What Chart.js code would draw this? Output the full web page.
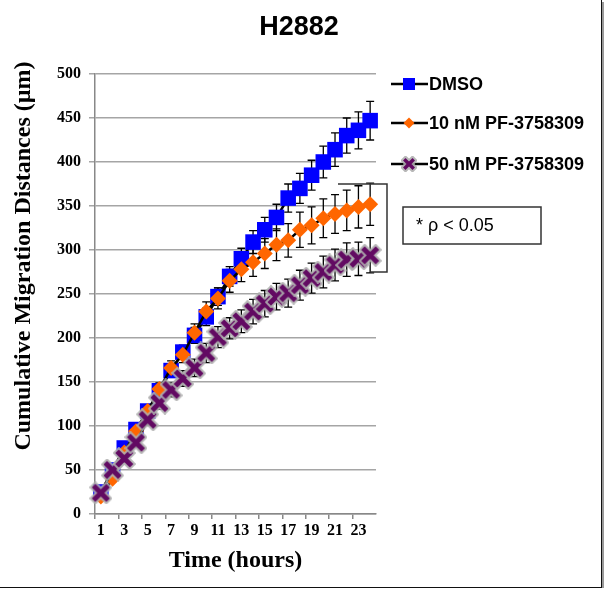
<!DOCTYPE html>
<html>
<head>
<meta charset="utf-8">
<title>H2882</title>
<script src="https://cdn.jsdelivr.net/npm/chart.js@4.4.0/dist/chart.umd.min.js"></script>
<style>
  html, body { margin: 0; padding: 0; background: #fff; }
  #wrap {
    position: relative;
    width: 601px;
    height: 587px;
    border-right: 1px solid #111;
    border-bottom: 1px solid #111;
    box-shadow: 2px 2px 0 #999;
  }
</style>
</head>
<body>
<div id="wrap"><canvas id="chart"></canvas></div>
<script>
// ─── Data ────────────────────────────────────────────────────────────────────
const hours = ['1', '2', '3', '4', '5', '6', '7', '8', '9', '10', '11', '12',
  '13', '14', '15', '16', '17', '18', '19', '20', '21', '22', '23', '24'];

const dmso = [25, 50, 75, 96, 117, 140, 163, 184, 203, 224, 247, 270,
  290, 309, 323, 337, 359, 370, 385, 400, 414, 430, 436, 447];
const dmsoErr = [2, 3, 4, 5, 5, 6, 7, 8, 9, 10, 10, 11,
  12, 13, 14, 15, 16, 17, 17, 18, 19, 20, 21, 22];

const pf10 = [20, 40, 70, 94, 117, 142, 166, 181, 206, 230, 245, 265,
  278, 286, 296, 306, 311, 323, 328, 336, 341, 345, 349, 352];
const pf10Err = [2, 3, 4, 5, 6, 7, 8, 9, 10, 11, 12, 13,
  14, 16, 17, 18, 19, 20, 21, 22, 22, 23, 24, 24];

const pf50 = [24, 50, 63, 81, 107, 126, 141, 154, 166, 183, 201, 211,
  219, 230, 239, 247, 251, 260, 268, 275, 283, 289, 290, 294];
const pf50Err = [2, 3, 4, 5, 6, 7, 8, 9, 10, 11, 12, 12,
  13, 14, 15, 15, 16, 17, 17, 18, 18, 19, 19, 20];

const seriesNames = ['DMSO', '10 nM PF-3758309', '50 nM PF-3758309'];
const yTicks = { min: 0, max: 500, step: 50 };
const chartTitle = 'H2882';
const sigNote = '* \u03c1 < 0.05';

// ─── Styling helpers ─────────────────────────────────────────────────────────
const BLUE = '#0000ff';
const ORANGE = '#ff6600';
const PURPLE = '#620a62';
const SERIF = "'Liberation Serif', 'Times New Roman', serif";
const SANS = "'Liberation Sans', Arial, sans-serif";

// Purple "X" marker with the grey halo seen in the original
function makeCross(size, lw) {
  const c = document.createElement('canvas');
  c.width = size; c.height = size;
  const g = c.getContext('2d');
  const p = lw + 1, q = size - lw - 1;
  g.lineCap = 'square';
  g.strokeStyle = 'rgba(175,175,175,0.9)';
  g.lineWidth = lw + 4;
  g.beginPath(); g.moveTo(p, p); g.lineTo(q, q); g.moveTo(q, p); g.lineTo(p, q); g.stroke();
  g.strokeStyle = PURPLE;
  g.lineWidth = lw;
  g.beginPath(); g.moveTo(p, p); g.lineTo(q, q); g.moveTo(q, p); g.lineTo(p, q); g.stroke();
  return c;
}
const crossBig = makeCross(23, 5);
const crossSmall = makeCross(16, 3.5);

// ─── Error bars (drawn behind markers) ───────────────────────────────────────
const errorBars = {
  id: 'errorBars',
  beforeDatasetsDraw(chart) {
    const { ctx, scales: { x, y } } = chart;
    ctx.save();
    ctx.strokeStyle = '#000';
    ctx.lineWidth = 1.3;
    chart.data.datasets.forEach(ds => {
      ds.data.forEach((v, i) => {
        const e = ds.errors[i];
        const px = x.getPixelForValue(i);
        const top = y.getPixelForValue(v + e);
        const bot = y.getPixelForValue(v - e);
        ctx.beginPath();
        ctx.moveTo(px, top); ctx.lineTo(px, bot);
        ctx.moveTo(px - 4, top); ctx.lineTo(px + 4, top);
        ctx.moveTo(px - 4, bot); ctx.lineTo(px + 4, bot);
        ctx.stroke();
      });
    });
    ctx.restore();
  },
};

// ─── Title, legend, y title, bracket and p-value box ─────────────────────────
const extras = {
  id: 'extras',
  afterDraw(chart) {
    const { ctx, chartArea: area, scales: { y } } = chart;
    ctx.save();

    // chart title (centred on the whole figure, not on the plot)
    ctx.font = `bold 27px ${SANS}`;
    ctx.fillStyle = '#000';
    ctx.textAlign = 'center';
    ctx.textBaseline = 'middle';
    ctx.fillText(chartTitle, 299, 28);

    // y axis title (sits a bit above the plot centre in the original)
    ctx.save();
    ctx.translate(24, (area.top + area.bottom) / 2 - 38);
    ctx.rotate(-Math.PI / 2);
    ctx.font = `bold 24px ${SERIF}`;
    ctx.fillText('Cumulative Migration Distances (\u00b5m)', 0, 0);
    ctx.restore();

    // legend
    ctx.textAlign = 'left';
    const lx = area.right + 15;
    const rows = [84, 123, 164];
    ctx.font = `bold 18px ${SANS}`;
    rows.forEach((ry, i) => {
      ctx.strokeStyle = '#000';
      ctx.lineWidth = 2.5;
      ctx.beginPath(); ctx.moveTo(lx, ry); ctx.lineTo(lx + 37, ry); ctx.stroke();
      const mx = lx + 18;
      if (i === 0) {
        ctx.fillStyle = BLUE;
        ctx.fillRect(mx - 6, ry - 6, 12, 12);
      } else if (i === 1) {
        ctx.fillStyle = ORANGE;
        ctx.beginPath();
        ctx.moveTo(mx, ry - 5.5); ctx.lineTo(mx + 5.5, ry);
        ctx.lineTo(mx, ry + 5.5); ctx.lineTo(mx - 5.5, ry);
        ctx.closePath(); ctx.fill();
      } else {
        ctx.drawImage(crossSmall, mx - 8, ry - 8);
      }
      ctx.fillStyle = '#000';
      ctx.fillText(seriesNames[i], lx + 38, ry + 1);
    });

    // significance bracket
    const bTop = y.getPixelForValue(375);
    const bBot = y.getPixelForValue(275);
    const bx = area.right + 11;
    ctx.strokeStyle = '#333';
    ctx.lineWidth = 1.5;
    ctx.beginPath();
    ctx.moveTo(area.right - 38, bTop); ctx.lineTo(bx, bTop);
    ctx.lineTo(bx, bBot); ctx.lineTo(area.right - 6, bBot);
    ctx.stroke();

    // p-value box
    const boxX = area.right + 27, boxY = 207;
    ctx.strokeRect(boxX, boxY, 138, 37);
    ctx.font = `18px ${SANS}`;
    ctx.fillStyle = '#000';
    ctx.fillText(sigNote, boxX + 13, boxY + 19);

    ctx.restore();
  },
};

// ─── Chart ───────────────────────────────────────────────────────────────────
new Chart(document.getElementById('chart'), {
  type: 'line',
  data: {
    labels: hours,
    datasets: [
      {
        label: seriesNames[0],
        data: dmso,
        errors: dmsoErr,
        borderColor: '#000',
        borderWidth: 2.5,
        pointStyle: 'rect',
        pointRadius: 11,
        pointBackgroundColor: BLUE,
        pointBorderColor: BLUE,
        pointBorderWidth: 0,
        order: 3,
      },
      {
        label: seriesNames[1],
        data: pf10,
        errors: pf10Err,
        borderColor: '#000',
        borderWidth: 2.5,
        pointStyle: 'rectRot',
        pointRadius: 8,
        pointBackgroundColor: ORANGE,
        pointBorderColor: ORANGE,
        pointBorderWidth: 0,
        order: 2,
      },
      {
        label: seriesNames[2],
        data: pf50,
        errors: pf50Err,
        borderColor: '#000',
        borderWidth: 2.5,
        pointStyle: crossBig,
        pointRadius: 9,
        order: 1,
      },
    ],
  },
  options: {
    responsive: true,
    maintainAspectRatio: false,
    animation: false,
    layout: { padding: { left: 0, right: 225, top: 74, bottom: 0 } },
    plugins: {
      legend: { display: false },
      tooltip: { enabled: false },
      title: { display: false },
    },
    scales: {
      x: {
        type: 'category',
        offset: true,
        grid: {
          offset: true,
          drawOnChartArea: false,
          tickLength: 5,
          lineWidth: 1.5,
          color: (c) => (c.index % 2 === 0 ? '#888' : 'rgba(0,0,0,0)'),
        },
        border: { color: '#888', width: 1.5 },
        ticks: {
          autoSkip: false,
          maxRotation: 0,
          padding: 2,
          color: '#000',
          font: { family: SERIF, size: 16, weight: 'bold' },
          callback: (v, i) => (i % 2 === 0 ? hours[i] : ''),
        },
        title: {
          display: true,
          text: 'Time (hours)',
          color: '#000',
          font: { family: SERIF, size: 24, weight: 'bold' },
          padding: { top: 0, bottom: 12 },
        },
        afterFit: (scale) => { scale.height = 73; },
      },
      y: {
        min: yTicks.min,
        max: yTicks.max,
        grid: { color: '#a5a5a5', lineWidth: 1.5, tickLength: 6 },
        border: { color: '#888', width: 1.5 },
        ticks: {
          stepSize: yTicks.step,
          padding: 8,
          color: '#000',
          font: { family: SERIF, size: 16, weight: 'bold' },
        },
        afterFit: (scale) => { scale.width = 95; },
      },
    },
  },
  plugins: [errorBars, extras],
});
</script>
</body>
</html>
